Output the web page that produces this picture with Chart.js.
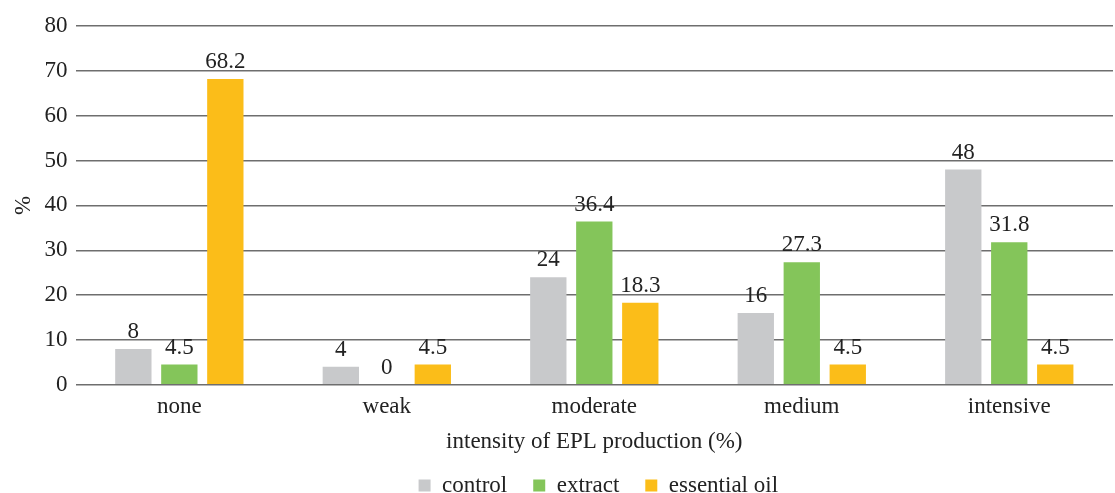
<!DOCTYPE html>
<html>
<head>
<meta charset="utf-8">
<script src="https://cdn.jsdelivr.net/npm/chart.js@4"></script>
<style>
  html, body { margin: 0; padding: 0; background: #fff; }
  #wrap { width: 1115px; height: 493px; }
</style>
</head>
<body>
<div id="wrap"><canvas id="chart" width="1115" height="493"></canvas></div>
<script>
// Intensity categories and per-treatment shares (%)
const categories = ['none', 'weak', 'moderate', 'medium', 'intensive'];
const controlValues = [8, 4, 24, 16, 48];
const extractValues = [4.5, 0, 36.4, 27.3, 31.8];
const essentialOilValues = [68.2, 4.5, 18.3, 4.5, 4.5];
const seriesNames = ['control', 'extract', 'essential oil'];
const yTicks = [0, 10, 20, 30, 40, 50, 60, 70, 80];

const SERIF = '"Liberation Serif", "Times New Roman", serif';
const TEXT = '#222';
const FS = 23;

// Prints each bar's value just above its top
const valueLabels = {
  id: 'valueLabels',
  afterDatasetsDraw(chart) {
    const ctx = chart.ctx;
    ctx.save();
    ctx.font = FS + 'px ' + SERIF;
    ctx.fillStyle = TEXT;
    ctx.textAlign = 'center';
    ctx.textBaseline = 'alphabetic';
    chart.data.datasets.forEach((ds, i) => {
      chart.getDatasetMeta(i).data.forEach((bar, j) => {
        ctx.fillText(String(ds.data[j]), bar.x, bar.y - 11);
      });
    });
    ctx.restore();
  }
};

const chart = new Chart(document.getElementById('chart'), {
  type: 'bar',
  data: {
    labels: categories,
    datasets: [
      { label: seriesNames[0], data: controlValues, backgroundColor: '#c8c9cb' },
      { label: seriesNames[1], data: extractValues, backgroundColor: '#84c55a' },
      { label: seriesNames[2], data: essentialOilValues, backgroundColor: '#fbbd19' }
    ]
  },
  options: {
    responsive: false,
    animation: false,
    layout: { padding: { top: 26, right: 2, left: 10, bottom: -14 } },
    datasets: { bar: { categoryPercentage: 0.665, barPercentage: 0.79 } },
    plugins: {
      tooltip: { enabled: false },
      legend: {
        position: 'bottom',
        labels: {
          boxWidth: 12, boxHeight: 12, padding: 26,
          color: TEXT, font: { family: SERIF, size: FS }
        }
      }
    },
    scales: {
      x: {
        grid: { display: false, drawTicks: false },
        border: { display: false },
        ticks: { color: TEXT, font: { family: SERIF, size: FS }, padding: 8 },
        title: {
          display: true, text: 'intensity of EPL production (%)',
          color: TEXT, font: { family: SERIF, size: FS }, padding: { top: 0, bottom: -8 }
        }
      },
      y: {
        min: 0, max: 80,
        afterBuildTicks(axis) { axis.ticks = yTicks.map(v => ({ value: v })); },
        grid: { color: '#6e6e6e', lineWidth: 1.5, drawTicks: false },
        border: { display: false },
        ticks: { color: TEXT, font: { family: SERIF, size: FS }, padding: 8 },
        title: {
          display: true, text: '%',
          color: TEXT, font: { family: SERIF, size: FS }, padding: { top: 0, bottom: -1 }
        }
      }
    }
  },
  plugins: [valueLabels]
});

// Center the legend under the plot area rather than the whole canvas
const legend = chart.legend;
const drawLegend = legend.draw.bind(legend);
legend.draw = function (area) {
  const c = chart.chartArea;
  const dx = (c.left + c.right) / 2 - chart.width / 2;
  chart.ctx.save();
  chart.ctx.translate(dx, 0);
  drawLegend(area);
  chart.ctx.restore();
};
chart.draw();
</script>
</body>
</html>
